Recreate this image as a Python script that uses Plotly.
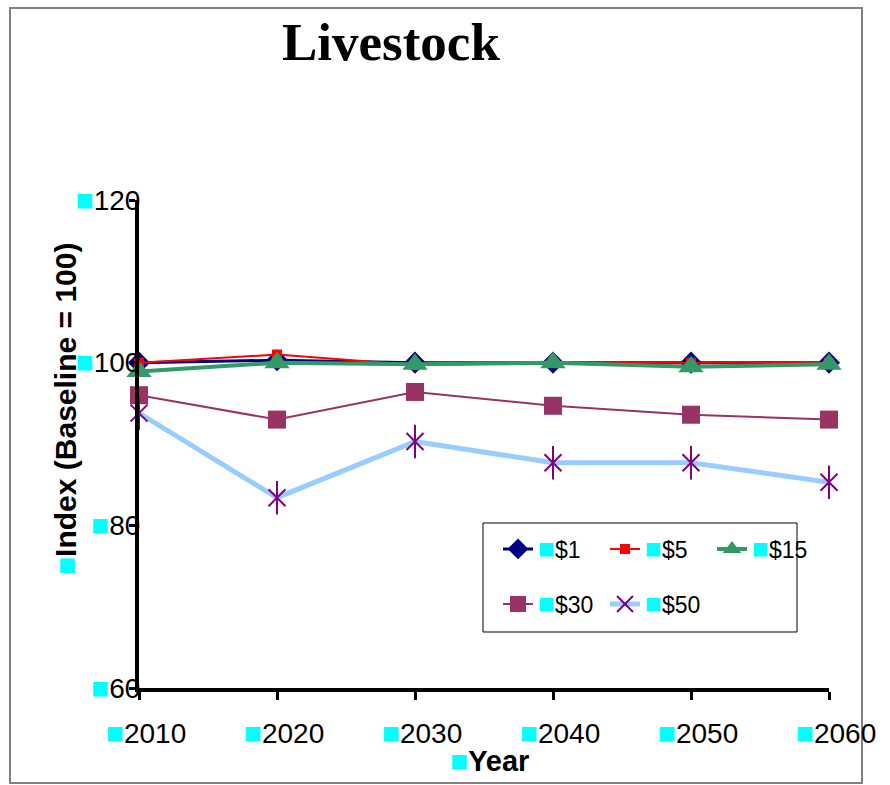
import plotly.graph_objects as go

# ---- data -------------------------------------------------------------
years = [2010, 2020, 2030, 2040, 2050, 2060]
price_1 = [100.0, 100.3, 100.0, 100.0, 100.0, 100.0]
price_5 = [100.0, 101.0, 99.7, 100.0, 100.0, 100.0]
price_15 = [98.9, 100.0, 99.8, 100.0, 99.5, 99.8]
price_30 = [96.0, 93.0, 96.4, 94.7, 93.6, 93.0]
price_50 = [93.8, 83.4, 90.3, 87.7, 87.7, 85.3]

y_ticks = [60, 80, 100, 120]
series_names = ["$1", "$5", "$15", "$30", "$50"]

CYAN = "#00FFFF"
FONT = "Arial, Liberation Sans, sans-serif"


def bullet(size):
    return f"<span style='color:{CYAN};font-size:{size}px'>■</span>"


# plot area in pixels (890 x 785 page)
W, H = 890, 785
L, R, T, B = 139, 829, 200, 688


def px_x(x):
    return (x - L) / (R - L)


def px_y(y):
    return (B - y) / (B - T)


fig = go.Figure()

# $1
fig.add_trace(go.Scatter(
    x=years, y=price_1, name=bullet(28) + series_names[0], mode="lines+markers",
    line=dict(color="#000080", width=3),
    marker=dict(symbol="diamond", size=17, color="#000080"),
    cliponaxis=False, legend="legend",
))
# $5
fig.add_trace(go.Scatter(
    x=years, y=price_5, name=bullet(28) + series_names[1], mode="lines+markers",
    line=dict(color="#FF0000", width=2),
    marker=dict(symbol="square", size=10, color="#FF0000"),
    cliponaxis=False, legend="legend",
))
# $15
fig.add_trace(go.Scatter(
    x=years, y=price_15, name=bullet(28) + series_names[2], mode="lines+markers",
    line=dict(color="#339966", width=4),
    marker=dict(symbol="triangle-up", size=22, color="#339966"),
    cliponaxis=False, legend="legend",
))
# $30
fig.add_trace(go.Scatter(
    x=years, y=price_30, name=bullet(28) + series_names[3], mode="lines+markers",
    line=dict(color="#993366", width=2),
    marker=dict(symbol="square", size=18, color="#993366"),
    cliponaxis=False, legend="legend2",
))
# $50: light blue line with purple star markers (X plus vertical bar)
fig.add_trace(go.Scatter(
    x=years, y=price_50, name=bullet(28) + series_names[4], mode="lines+markers",
    line=dict(color="#99CCFF", width=5),
    marker=dict(symbol="x-thin-open", size=17, color="#800080",
                line=dict(color="#800080", width=2)),
    cliponaxis=False, legend="legend2",
))
fig.add_trace(go.Scatter(
    x=years, y=price_50, mode="markers", showlegend=False, hoverinfo="skip",
    marker=dict(symbol="line-ns-open", size=24, color="#800080",
                line=dict(color="#800080", width=2)),
    cliponaxis=False,
))

fig.update_layout(
    width=W, height=H,
    margin=dict(l=L, r=W - R, t=T, b=H - B),
    paper_bgcolor="white", plot_bgcolor="white",
    font=dict(family=FONT, color="black"),
    xaxis=dict(
        range=[2010, 2060], tickmode="array", tickvals=years,
        ticktext=[bullet(30) + str(y) for y in years],
        showgrid=False, zeroline=False,
        showline=True, linecolor="black", linewidth=4,
        ticks="outside", ticklen=8, tickwidth=3, tickcolor="black",
        tickfont=dict(size=28, family=FONT),
        ticklabelshift=7, ticklabelstandoff=9,
    ),
    yaxis=dict(
        range=[60, 120], tickmode="array", tickvals=y_ticks,
        ticktext=[bullet(30) + str(v) for v in y_ticks],
        showgrid=False, zeroline=False,
        showline=True, linecolor="black", linewidth=4,
        ticks="outside", ticklen=6, tickwidth=3, tickcolor="black",
        tickfont=dict(size=28, family=FONT),
        ticklabelstandoff=-17,
    ),
    legend=dict(
        orientation="h", x=px_x(498), y=px_y(549), xanchor="left", yanchor="middle",
        font=dict(size=23, family=FONT), bgcolor="rgba(0,0,0,0)", borderwidth=0,
        entrywidth=62, entrywidthmode="pixels", itemclick=False,
    ),
    legend2=dict(
        orientation="h", x=px_x(498), y=px_y(604), xanchor="left", yanchor="middle",
        font=dict(size=23, family=FONT), bgcolor="rgba(0,0,0,0)", borderwidth=0,
        entrywidth=62, entrywidthmode="pixels", itemclick=False,
    ),
    showlegend=True,
)

# outer frame and legend box
fig.add_shape(type="rect", xref="paper", yref="paper",
              x0=px_x(10), x1=px_x(862), y0=px_y(783), y1=px_y(8),
              line=dict(color="#808080", width=2), layer="below")
fig.add_shape(type="rect", xref="paper", yref="paper",
              x0=px_x(483), x1=px_x(797), y0=px_y(632), y1=px_y(523),
              line=dict(color="black", width=1), layer="below")

# titles
fig.add_annotation(text="<b>Livestock</b>", xref="paper", yref="paper",
                   x=px_x(391), y=px_y(42), xanchor="center", yanchor="middle",
                   showarrow=False,
                   font=dict(family="Times New Roman, Liberation Serif, serif", size=53))
fig.add_annotation(text=bullet(30) + "<b>Index (Baseline = 100)</b>", xref="paper", yref="paper",
                   x=px_x(65), y=px_y(409), xanchor="center", yanchor="middle",
                   textangle=-90, showarrow=False, font=dict(family=FONT, size=30))
fig.add_annotation(text=bullet(30) + "<b>Year</b>", xref="paper", yref="paper",
                   x=px_x(490), y=px_y(760), xanchor="center", yanchor="middle",
                   showarrow=False, font=dict(family=FONT, size=29))

fig.write_html("out.html")
